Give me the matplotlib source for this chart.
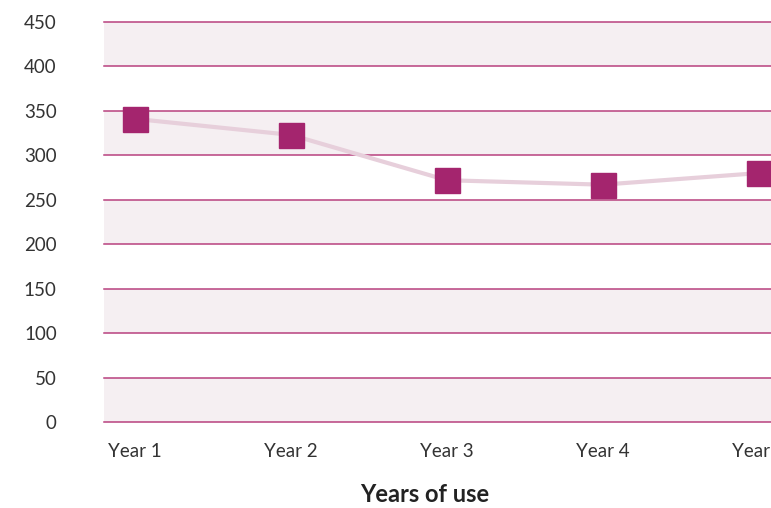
import matplotlib
matplotlib.use('Agg')
import matplotlib.pyplot as plt

# data
years = ['Year 1', 'Year 2', 'Year 3', 'Year 4', 'Year 5']
values = [341, 323, 272, 267, 280]
y_ticks = [0, 50, 100, 150, 200, 250, 300, 350, 400, 450]

plt.rcParams['font.family'] = ['Lato', 'DejaVu Sans']

fig = plt.figure(figsize=(7.71, 5.08), dpi=100)
ax = fig.add_axes([104 / 771, 86 / 508, 1 - 104 / 771, 400 / 508])

x = list(range(len(years)))

# alternating bands and magenta grid lines
for i in range(0, len(y_ticks) - 1, 2):
    ax.axhspan(y_ticks[i], y_ticks[i + 1], color='#f5eff2', lw=0, zorder=0)
for t in y_ticks:
    ax.axhline(t, color='#b8417f', lw=1.1, zorder=1, clip_on=False)

ax.plot(x, values, color='#e7cfdb', lw=3, zorder=2, solid_capstyle='butt')
ax.plot(x, values, ls='none', marker='s', markersize=18, color='#a4256e',
        zorder=3, clip_on=False)

ax.set_xlim(-0.2, 4.08)
ax.set_ylim(0, 450)
ax.set_yticks(y_ticks)
ax.set_xticks(x)
ax.set_xticklabels(years)

for s in ax.spines.values():
    s.set_visible(False)
ax.tick_params(axis='both', length=0, labelsize=13.5, colors='#333333')
ax.tick_params(axis='y', pad=34)
ax.tick_params(axis='x', pad=15)

fig.text(425 / 771, 1 - 494 / 508, 'Years of use', ha='center', va='center',
         fontsize=17, fontweight='bold', color='#222222')

fig.savefig('out.png', dpi=100)
